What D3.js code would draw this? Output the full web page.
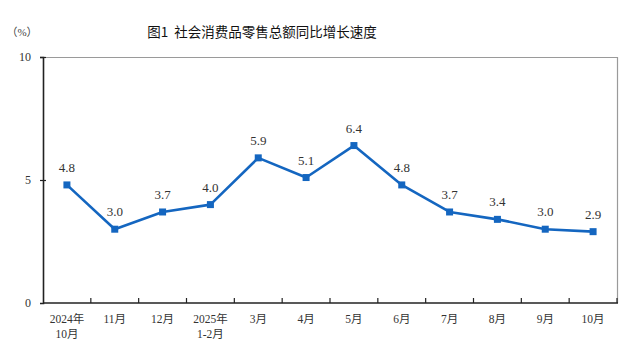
<!DOCTYPE html>
<html>
<head>
<meta charset="utf-8">
<script src="https://cdn.jsdelivr.net/npm/d3@7"></script>
<style>
  html, body { margin: 0; padding: 0; background: #fff; }
  svg { display: block; }
</style>
</head>
<body>
<svg id="chart" width="632" height="342"></svg>
<script>
// Monthly year-on-year growth of total retail sales of consumer goods (%)
const categories = [
  ["2024年", "10月"], ["11月"], ["12月"], ["2025年", "1-2月"], ["3月"], ["4月"],
  ["5月"], ["6月"], ["7月"], ["8月"], ["9月"], ["10月"]
];
const growth = [4.8, 3.0, 3.7, 4.0, 5.9, 5.1, 6.4, 4.8, 3.7, 3.4, 3.0, 2.9];
const yTicks = [0, 5, 10];
const title = "图1\u00a0\u00a0社会消费品零售总额同比增长速度";
const unitLabel = "（%）";

(function draw() {
  const svg = d3.select("#chart");
  const mLeft = 43, mRight = 617, mTop = 57, mBottom = 303;
  const serif = "'Liberation Serif', 'Times New Roman', 'Noto Sans CJK SC', serif";
  const lineColor = "#1466c0";

  const x = d3.scaleBand().domain(d3.range(categories.length)).range([mLeft, mRight]);
  const y = d3.scaleLinear().domain([0, 10]).range([mBottom, mTop]);

  // Frame: grey top and right edges
  svg.append("path")
    .attr("d", `M${mLeft},${mTop + 0.5}H${mRight + 0.5}V${mBottom}`)
    .attr("fill", "none").attr("stroke", "#9a9a9a").attr("stroke-width", 1.2);

  // Y axis
  const yAxis = svg.append("g").attr("transform", `translate(${mLeft},0)`)
    .call(d3.axisLeft(y).tickValues(yTicks).tickSize(3).tickPadding(9));
  yAxis.select(".domain").attr("stroke", "#222").attr("stroke-width", 1.6);
  yAxis.selectAll(".tick line").attr("stroke", "#222").attr("stroke-width", 1.2).attr("x2", -3).attr("x1", 3);
  yAxis.selectAll(".tick text").attr("font-family", serif).attr("font-size", 12).attr("fill", "#333");
  yAxis.selectAll(".tick").filter(d => d === 0).select("line").remove();

  // X axis: ticks at band boundaries pointing inward
  const xAxisG = svg.append("g").attr("transform", `translate(0,${mBottom})`);
  xAxisG.append("line").attr("x1", mLeft).attr("x2", mRight + 1)
    .attr("stroke", "#222").attr("stroke-width", 1.6);
  xAxisG.selectAll("line.bt").data(d3.range(1, categories.length + 1)).join("line")
    .attr("class", "bt")
    .attr("x1", i => x(i - 1) + x.bandwidth()).attr("x2", i => x(i - 1) + x.bandwidth())
    .attr("y1", 0).attr("y2", -5).attr("stroke", "#222").attr("stroke-width", 1.2);

  const xLabels = xAxisG.selectAll("text.cat").data(categories).join("text")
    .attr("class", "cat")
    .attr("text-anchor", "middle")
    .attr("font-family", serif).attr("font-size", 11.5).attr("fill", "#333")
    .attr("transform", (d, i) => `translate(${x(i) + x.bandwidth() / 2},20)`);
  xLabels.selectAll("tspan").data(d => d).join("tspan")
    .attr("x", 0).attr("dy", (d, j) => j === 0 ? 0 : 14.5).text(d => d);

  // Line and markers
  const cx = i => x(i) + x.bandwidth() / 2;
  svg.append("path").datum(growth)
    .attr("d", d3.line().x((d, i) => cx(i)).y(d => y(d)))
    .attr("fill", "none").attr("stroke", lineColor).attr("stroke-width", 2.6)
    .attr("stroke-linejoin", "round");
  svg.selectAll("rect.pt").data(growth).join("rect")
    .attr("class", "pt")
    .attr("x", (d, i) => cx(i) - 3.5).attr("y", d => y(d) - 3.5)
    .attr("width", 7).attr("height", 7).attr("fill", lineColor);

  // Value labels
  svg.selectAll("text.val").data(growth).join("text")
    .attr("class", "val")
    .attr("x", (d, i) => cx(i)).attr("y", d => y(d) - 13)
    .attr("text-anchor", "middle")
    .attr("font-family", serif).attr("font-size", 13).attr("fill", "#333")
    .text(d => d.toFixed(1));

  // Title and unit
  svg.append("text").attr("x", 262).attr("y", 37).attr("text-anchor", "middle")
    .attr("font-family", "'Noto Sans CJK SC', sans-serif").attr("font-size", 13.5)
    .attr("font-weight", 400).attr("fill", "#111").text(title);
  svg.append("text").attr("x", 22).attr("y", 36).attr("text-anchor", "middle")
    .attr("font-family", serif).attr("font-size", 11).attr("fill", "#444").text(unitLabel);
})();
</script>
</body>
</html>
